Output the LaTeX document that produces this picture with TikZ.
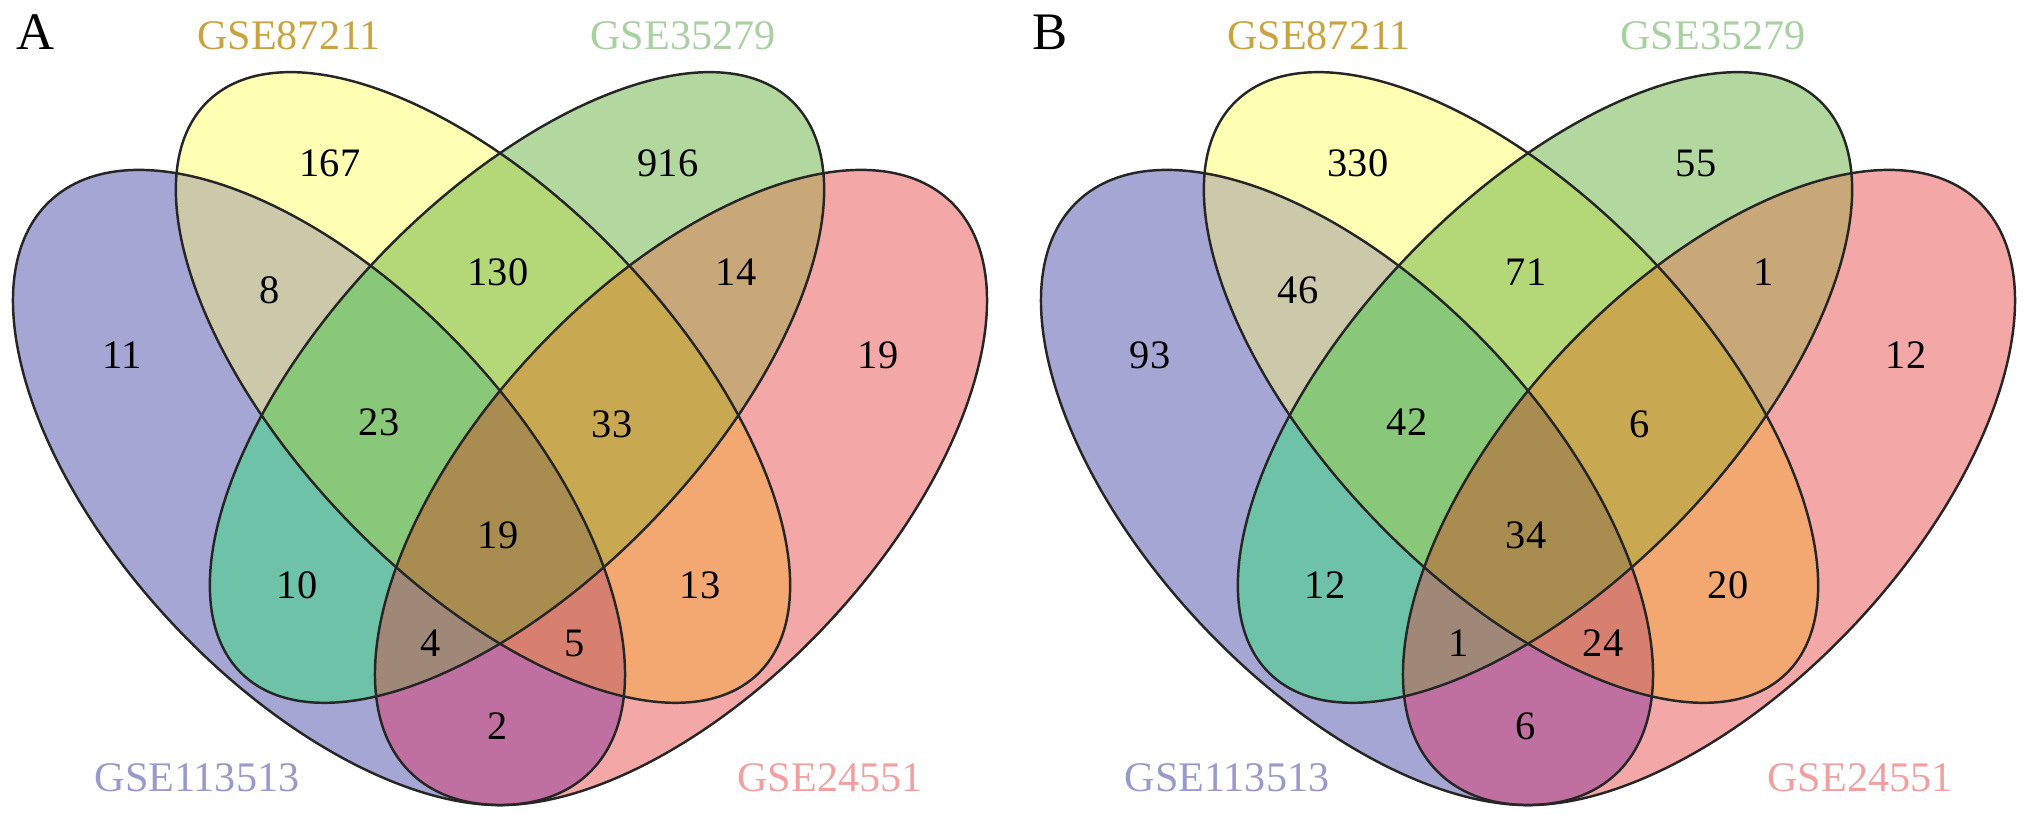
\documentclass[tikz,border=0pt]{standalone}
\usepackage{fontspec}
\setmainfont{Liberation Serif}
% region colours (one per combination of sets)
\definecolor{cB}{RGB}{166,166,212}
\definecolor{cY}{RGB}{255,255,180}
\definecolor{cG}{RGB}{178,216,160}
\definecolor{cR}{RGB}{244,167,167}
\definecolor{cBY}{RGB}{204,200,170}
\definecolor{cBG}{RGB}{110,194,168}
\definecolor{cBR}{RGB}{192,112,160}
\definecolor{cYG}{RGB}{180,216,120}
\definecolor{cYR}{RGB}{242,168,112}
\definecolor{cGR}{RGB}{200,168,120}
\definecolor{cBYG}{RGB}{136,200,120}
\definecolor{cBYR}{RGB}{216,128,112}
\definecolor{cBGR}{RGB}{160,136,120}
\definecolor{cYGR}{RGB}{200,168,80}
\definecolor{cAll}{RGB}{168,140,80}
% set name colours
\definecolor{labBlue}{RGB}{153,153,204}
\definecolor{labYellow}{RGB}{201,163,64}
\definecolor{labGreen}{RGB}{168,208,160}
\definecolor{labRed}{RGB}{240,160,160}
\newcommand\ellBlue{(3.19,3.275) ellipse [x radius=3.93, y radius=2.0, rotate=-46.8]}
\newcommand\ellYellow{(4.83,4.275) ellipse [x radius=3.97, y radius=1.9, rotate=-46.2]}
\newcommand\ellGreen{(5.17,4.275) ellipse [x radius=3.97, y radius=1.9, rotate=46.2]}
\newcommand\ellRed{(6.81,3.275) ellipse [x radius=3.93, y radius=2.0, rotate=46.8]}
\begin{document}
\begin{tikzpicture}[
    edge/.style={draw=black!85,line width=0.7pt},
    num/.style={font=\fontsize{11.5}{13}\selectfont},
    setname/.style={font=\fontsize{12}{14}\selectfont},
    panel/.style={font=\fontsize{15}{17}\selectfont}]
\useasboundingbox (0,0) rectangle (20.31,8.15);
\foreach \dx in {0,10.28}{
  \begin{scope}[xshift=\dx cm]
    % single sets
    \fill[cB] \ellBlue; \fill[cY] \ellYellow; \fill[cG] \ellGreen; \fill[cR] \ellRed;
    % pairs
    \begin{scope} \clip \ellBlue; \fill[cBY] \ellYellow; \fill[cBG] \ellGreen; \fill[cBR] \ellRed; \end{scope}
    \begin{scope} \clip \ellYellow; \fill[cYG] \ellGreen; \fill[cYR] \ellRed; \end{scope}
    \begin{scope} \clip \ellGreen; \fill[cGR] \ellRed; \end{scope}
    % triples
    \begin{scope} \clip \ellBlue; \clip \ellYellow; \fill[cBYG] \ellGreen; \fill[cBYR] \ellRed; \end{scope}
    \begin{scope} \clip \ellBlue; \clip \ellGreen; \fill[cBGR] \ellRed; \end{scope}
    \begin{scope} \clip \ellYellow; \clip \ellGreen; \fill[cYGR] \ellRed; \end{scope}
    % all four
    \begin{scope} \clip \ellBlue; \clip \ellYellow; \clip \ellGreen; \fill[cAll] \ellRed; \end{scope}
    \draw[edge] \ellBlue; \draw[edge] \ellYellow; \draw[edge] \ellGreen; \draw[edge] \ellRed;
  \end{scope}
}
% counts: x/y/panel A/panel B
\foreach \xa/\ya/\va/\vb [count=\i] in {1.22/4.60/11/93, 3.30/6.52/167/330, 6.68/6.52/916/55,
    8.78/4.60/19/12, 2.70/5.25/8/46, 4.98/5.43/130/71, 7.36/5.43/14/1, 3.79/3.93/23/42,
    6.12/3.91/33/6, 2.97/2.30/10/12, 4.98/2.80/19/34, 7.00/2.30/13/20, 4.31/1.72/4/1,
    5.75/1.72/5/24, 4.98/0.89/2/6}{
  \node[num] (na\i) at (\xa,\ya) {\va};
  \node[num] (nb\i) at (\xa+10.28,\ya) {\vb};
}
% panel letters and set names
\node[panel] (tagA) at (0.36,7.83) {A};
\node[panel] (tagB) at (10.50,7.83) {B};
\node[setname,text=labYellow] (yelA) at (2.89,7.79) {GSE87211};
\node[setname,text=labGreen] (grnA) at (6.83,7.79) {GSE35279};
\node[setname,text=labBlue] (bluA) at (1.97,0.37) {GSE113513};
\node[setname,text=labRed] (redA) at (8.30,0.37) {GSE24551};
\node[setname,text=labYellow] (yelB) at (13.19,7.79) {GSE87211};
\node[setname,text=labGreen] (grnB) at (17.13,7.79) {GSE35279};
\node[setname,text=labBlue] (bluB) at (12.27,0.37) {GSE113513};
\node[setname,text=labRed] (redB) at (18.60,0.37) {GSE24551};
\end{tikzpicture}
\end{document}
